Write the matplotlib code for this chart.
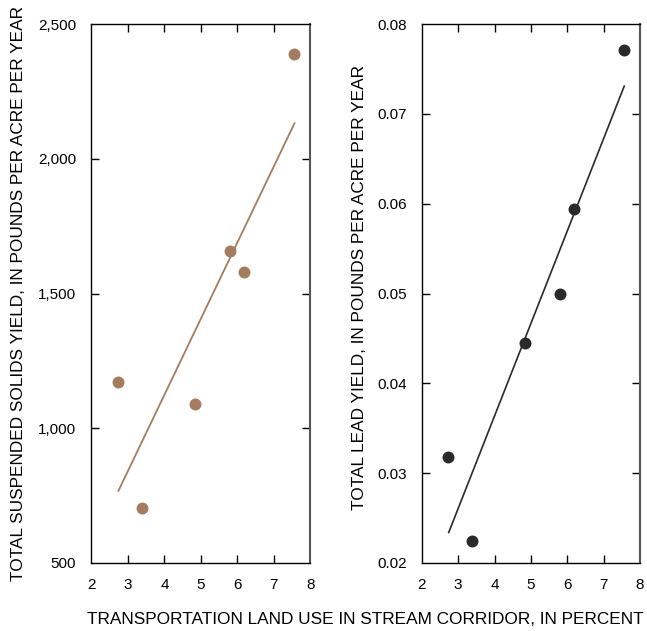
import matplotlib.pyplot as plt

plt.rcParams['font.family'] = ['Liberation Sans', 'DejaVu Sans']

# transportation land use in stream corridor, percent
transport = [2.72, 3.38, 4.84, 5.80, 6.19, 7.56]
# total suspended solids yield, lb/acre/yr
tss = [1173, 705, 1089, 1658, 1580, 2389]
# total lead yield, lb/acre/yr
lead = [0.0318, 0.0224, 0.0445, 0.0500, 0.0594, 0.0771]

# fitted regression line end points
line_x = [2.74, 7.57]
tss_fit = [768, 2132]
lead_fit = [0.0234, 0.0731]

x_ticks = [2, 3, 4, 5, 6, 7, 8]
tss_ticks = [500, 1000, 1500, 2000, 2500]
tss_labels = ['500', '1,000', '1,500', '2,000', '2,500']
lead_ticks = [0.02, 0.03, 0.04, 0.05, 0.06, 0.07, 0.08]
lead_labels = ['0.02', '0.03', '0.04', '0.05', '0.06', '0.07', '0.08']

brown = '#a57c60'
dark = '#2a2a2a'

fig = plt.figure(figsize=(6.47, 6.31), dpi=100)
ax1 = fig.add_axes([0.1414, 0.1078, 0.338, 0.854])
ax2 = fig.add_axes([0.652, 0.1078, 0.337, 0.854])


def style(ax, yticks, ylabels, ylim):
    ax.set_xlim(2, 8)
    ax.set_ylim(*ylim)
    ax.set_xticks(x_ticks)
    ax.set_yticks(yticks)
    ax.set_yticklabels(ylabels)
    ax.tick_params(direction='in', top=True, right=True, length=6,
                   width=1, labelsize=11, colors='black')
    ax.tick_params(axis='x', pad=11)
    ax.tick_params(axis='y', pad=11)
    # no tick marks on the corners, only labels
    for t in (ax.xaxis.get_major_ticks()[0], ax.xaxis.get_major_ticks()[-1],
              ax.yaxis.get_major_ticks()[0], ax.yaxis.get_major_ticks()[-1]):
        t.tick1line.set_visible(False)
        t.tick2line.set_visible(False)
    for s in ax.spines.values():
        s.set_linewidth(1.0)
    ax.spines['right'].set_color('#555555')
    ax.spines['right'].set_linewidth(1.5)


ax1.plot(line_x, tss_fit, color=brown, lw=1.3)
ax1.plot(transport, tss, 'o', color=brown, ms=8.6, mec='none')
style(ax1, tss_ticks, tss_labels, (500, 2500))
ax1.set_ylabel('TOTAL SUSPENDED SOLIDS YIELD, IN POUNDS PER ACRE PER YEAR',
               fontsize=12.4, labelpad=9)

ax2.plot(line_x, lead_fit, color=dark, lw=1.2)
ax2.plot(transport, lead, 'o', color=dark, ms=8.6, mec='none')
style(ax2, lead_ticks, lead_labels, (0.02, 0.08))
ax2.set_ylabel('TOTAL LEAD YIELD, IN POUNDS PER ACRE PER YEAR',
               fontsize=12.4, labelpad=7.5)
ax2.yaxis.label.set_y(0.511)

fig.text(0.565, 0.007, 'TRANSPORTATION LAND USE IN STREAM CORRIDOR, IN PERCENT',
         ha='center', va='bottom', fontsize=12.4)

fig.savefig('out.png', dpi=100)
